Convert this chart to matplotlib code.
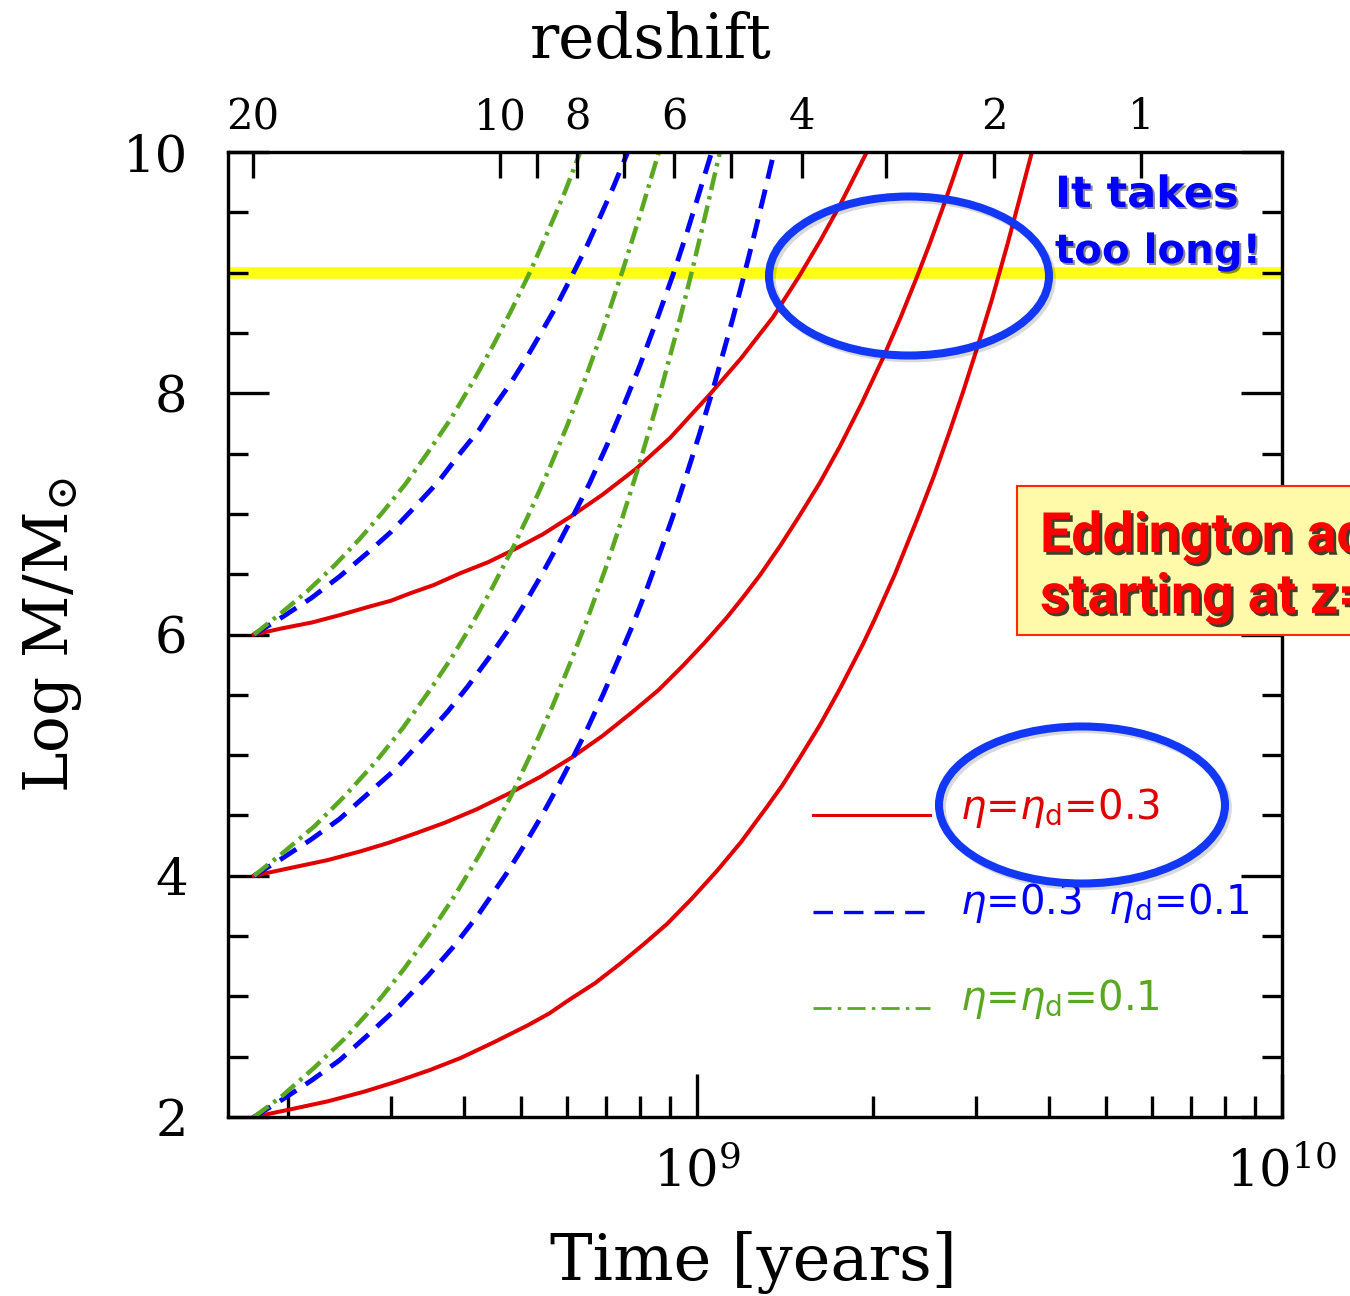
import matplotlib
matplotlib.use('Agg')
import numpy as np
import matplotlib.pyplot as plt
import matplotlib.patheffects as pe
from matplotlib.lines import Line2D
from matplotlib.patches import Ellipse, Rectangle
from matplotlib.ticker import FixedLocator, LogLocator, MultipleLocator, NullFormatter, NullLocator

plt.rcParams['font.family'] = ['DejaVu Serif']
plt.rcParams['mathtext.fontset'] = 'dejavuserif'
plt.rcParams['lines.scale_dashes'] = False

RED = '#e00000'
BLUE = '#0000ff'
GREEN = '#5aa821'
RING = '#1238f5'

# growth tracks: cosmic time [Gyr] and log M/Msun, seeds planted at z=20
# eta = eta_d = 0.3
t_red_6 = [0.175, 0.195, 0.220, 0.245, 0.275, 0.300, 0.323, 0.355, 0.395, 0.440, 0.485, 0.545, 0.614,
           0.690, 0.790, 0.900, 1.052, 1.190, 1.349, 1.500, 1.623, 1.756, 1.952]
m_red_6 = [6.00, 6.05, 6.10, 6.16, 6.23, 6.28, 6.34, 6.41, 6.51, 6.60, 6.70, 6.83, 6.99,
           7.16, 7.38, 7.63, 7.99, 8.29, 8.63, 8.98, 9.26, 9.56, 10.0]
t_red_4 = [0.175, 0.200, 0.234, 0.265, 0.296, 0.330, 0.371, 0.420, 0.481, 0.540, 0.611, 0.690, 0.777,
           0.860, 0.946, 1.030, 1.125, 1.200, 1.281, 1.390, 1.500, 1.623, 1.756, 1.910, 2.079, 2.230,
           2.380, 2.500, 2.633, 2.740, 2.838]
m_red_4 = [4.00, 4.06, 4.13, 4.20, 4.27, 4.35, 4.44, 4.55, 4.69, 4.82, 4.98, 5.16, 5.36,
           5.54, 5.74, 5.93, 6.14, 6.31, 6.49, 6.74, 6.99, 7.26, 7.56, 7.91, 8.29, 8.63,
           8.97, 9.24, 9.54, 9.78, 10.0]
t_red_2 = [0.175, 0.205, 0.234, 0.270, 0.305, 0.350, 0.395, 0.450, 0.514, 0.560, 0.600, 0.670, 0.739,
           0.810, 0.889, 0.980, 1.082, 1.190, 1.317, 1.400, 1.500, 1.623, 1.756, 1.922, 2.015, 2.180,
           2.377, 2.540, 2.707, 2.850, 3.010, 3.190, 3.388, 3.560, 3.738]
m_red_2 = [2.00, 2.07, 2.13, 2.21, 2.29, 2.39, 2.49, 2.62, 2.76, 2.86, 2.96, 3.11, 3.27,
           3.43, 3.60, 3.81, 4.04, 4.28, 4.57, 4.75, 4.98, 5.25, 5.55, 5.92, 6.13, 6.50,
           6.95, 7.31, 7.69, 8.01, 8.37, 8.77, 9.22, 9.61, 10.0]

# eta = 0.3, eta_d = 0.1
t_blue_6 = [0.175, 0.195, 0.219, 0.245, 0.274, 0.300, 0.330, 0.362, 0.395, 0.425, 0.452, 0.480, 0.508,
            0.540, 0.575, 0.614, 0.650, 0.683, 0.720, 0.762]
m_blue_6 = [6.00, 6.14, 6.30, 6.48, 6.68, 6.85, 7.06, 7.27, 7.51, 7.70, 7.90, 8.08, 8.27,
            8.49, 8.72, 8.99, 9.23, 9.46, 9.71, 10.0]
t_blue_4 = [0.175, 0.195, 0.219, 0.245, 0.274, 0.305, 0.343, 0.375, 0.406, 0.440, 0.481, 0.510, 0.545,
            0.580, 0.614, 0.655, 0.702, 0.750, 0.799, 0.850, 0.910, 0.960, 1.012, 1.060]
m_blue_4 = [4.00, 4.14, 4.30, 4.47, 4.68, 4.88, 5.15, 5.36, 5.57, 5.80, 6.07, 6.27, 6.51,
            6.75, 6.98, 7.25, 7.57, 7.90, 8.23, 8.58, 8.98, 9.32, 9.68, 10.0]
t_blue_2 = [0.175, 0.195, 0.219, 0.245, 0.274, 0.310, 0.347, 0.385, 0.422, 0.473, 0.508, 0.545, 0.580,
            0.614, 0.650, 0.691, 0.735, 0.777, 0.820, 0.865, 0.910, 0.961, 1.010, 1.065, 1.110,
            1.152, 1.200, 1.247, 1.300, 1.355]
m_blue_2 = [2.00, 2.14, 2.30, 2.47, 2.68, 2.92, 3.17, 3.42, 3.67, 4.02, 4.26, 4.51, 4.75,
            4.98, 5.22, 5.50, 5.80, 6.08, 6.37, 6.68, 6.98, 7.33, 7.66, 8.03, 8.34,
            8.62, 8.95, 9.27, 9.63, 10.0]

# eta = eta_d = 0.1
t_green_6 = [0.175, 0.195, 0.216, 0.240, 0.265, 0.290, 0.318, 0.347, 0.380, 0.417, 0.450, 0.481,
             0.518, 0.561, 0.595, 0.632]
m_green_6 = [6.00, 6.18, 6.36, 6.57, 6.79, 7.01, 7.25, 7.51, 7.79, 8.12, 8.41, 8.68,
             9.00, 9.38, 9.67, 10.0]
t_green_4 = [0.175, 0.195, 0.222, 0.250, 0.282, 0.315, 0.351, 0.380, 0.411, 0.445, 0.485, 0.520,
             0.560, 0.600, 0.640, 0.690, 0.747, 0.800, 0.861]
m_green_4 = [4.00, 4.18, 4.41, 4.66, 4.94, 5.23, 5.55, 5.80, 6.07, 6.37, 6.72, 7.03,
             7.38, 7.73, 8.08, 8.52, 9.02, 9.48, 10.0]
t_green_2 = [0.175, 0.195, 0.222, 0.250, 0.282, 0.315, 0.347, 0.385, 0.427, 0.455, 0.481, 0.524,
             0.567, 0.607, 0.649, 0.702, 0.745, 0.790, 0.830, 0.865, 0.900, 0.935, 0.984, 1.040, 1.095]
m_green_2 = [2.00, 2.17, 2.41, 2.65, 2.93, 3.22, 3.50, 3.83, 4.19, 4.44, 4.66, 5.04,
             5.41, 5.76, 6.12, 6.58, 6.96, 7.35, 7.70, 8.00, 8.31, 8.61, 9.04, 9.53, 10.0]

# redshift scale: z and age of the universe [Gyr]
z_ticks = [20, 10, 9, 8, 7, 6, 5, 4, 3, 2, 1]
z_age = [0.174, 0.461, 0.533, 0.624, 0.750, 0.914, 1.143, 1.512, 2.104, 3.219, 5.741]
z_shown = [20, 10, 8, 6, 4, 2, 1]

quasar_mass = 9.0

legend_labels = [r'$\eta$=$\eta_{\rm d}$=0.3',
                 r'$\eta$=0.3  $\eta_{\rm d}$=0.1',
                 r'$\eta$=$\eta_{\rm d}$=0.1']

W, H = 1350, 1296


def fx(px):
    return px / W


def fy(py):
    return 1 - py / H


styles = {
    'red': dict(color=RED, lw=2.9, ls='-'),
    'blue': dict(color=BLUE, lw=3.5, ls=(0, (14, 8))),
    'green': dict(color=GREEN, lw=3.2, ls=(0, (13, 4.5, 2.5, 4.5))),
}
tracks = [
    ('red', t_red_6, m_red_6), ('red', t_red_4, m_red_4), ('red', t_red_2, m_red_2),
    ('blue', t_blue_6, m_blue_6), ('blue', t_blue_4, m_blue_4), ('blue', t_blue_2, m_blue_2),
    ('green', t_green_6, m_green_6), ('green', t_green_4, m_green_4), ('green', t_green_2, m_green_2),
]

fig = plt.figure(figsize=(13.5, 12.96), dpi=100)
ax = fig.add_axes([228 / W, fy(1117), (1282 - 228) / W, (1117 - 152) / H])

ax.axhline(quasar_mass, color='#ffff10', lw=8.3, zorder=1)
for name, t, m in tracks:
    ax.plot(np.array(t) * 1e9, m, zorder=3, **styles[name])

ax.set_xscale('log')
ax.set_xlim(1.58e8, 1e10)
ax.set_ylim(2, 10)
ax.xaxis.set_major_locator(LogLocator(base=10, numticks=10))
ax.xaxis.set_minor_locator(LogLocator(base=10, subs=range(2, 10), numticks=20))
ax.xaxis.set_minor_formatter(NullFormatter())
ax.yaxis.set_major_locator(MultipleLocator(2))
ax.yaxis.set_minor_locator(MultipleLocator(0.5))

ax.tick_params(which='both', direction='in', width=2.4, color='k')
ax.tick_params(axis='y', which='major', length=29.5, pad=29, labelsize=37, right=True)
ax.tick_params(axis='y', which='minor', length=14.5, right=True)
ax.tick_params(axis='x', which='major', length=31, pad=22, labelsize=37, top=False)
ax.tick_params(axis='x', which='minor', length=15, top=False)
for sp in ax.spines.values():
    sp.set_linewidth(2.3)

# redshift along the top
ax_top = ax.twiny()
ax_top.set_xscale('log')
ax_top.set_xlim(ax.get_xlim())
ax_top.xaxis.set_major_locator(FixedLocator(np.array(z_age) * 1e9))
ax_top.xaxis.set_minor_locator(NullLocator())
ax_top.set_xticklabels([str(z) if z in z_shown else '' for z in z_ticks])
ax_top.tick_params(axis='x', direction='in', length=18.5, width=2.4, pad=10, labelsize=30)
for sp in ax_top.spines.values():
    sp.set_linewidth(2.3)

fig.text(fx(651), fy(58), 'redshift', ha='center', va='baseline', fontsize=44)
fig.text(fx(753), fy(1280), 'Time [years]', ha='center', va='baseline', fontsize=46)
fig.text(fx(52), fy(635), r'Log M/M$_{\odot}$', ha='center', va='center', rotation=90, fontsize=44)

# legend drawn by hand
leg_colors = [RED, BLUE, GREEN]
leg_names = ['red', 'blue', 'green']
leg_line_y = [815, 912, 1008]
leg_text_y = [819, 914, 1010]
leg_widths = [2.2, 2.4, 2.0]
for name, col, ly, ty, lw, lab in zip(leg_names, leg_colors, leg_line_y, leg_text_y, leg_widths, legend_labels):
    st = dict(styles[name])
    st['lw'] = lw
    fig.add_artist(Line2D([fx(813), fx(930)], [fy(ly), fy(ly)], transform=fig.transFigure, **st))
    fig.text(fx(960), fy(ty), lab, color=col, fontsize=29, family='DejaVu Sans',
             math_fontfamily='dejavusans', va='baseline')

# highlight rings
ring_shadow = [pe.SimpleLineShadow(offset=(2, -2), shadow_color='k', alpha=0.15), pe.Normal()]
for cx, cy, w, h in [(909, 276, 280, 159), (1082, 805, 286, 157)]:
    fig.add_artist(Ellipse((fx(cx), fy(cy)), w / W, h / H, transform=fig.transFigure, fill=False,
                           ec=RING, lw=5.8, zorder=10, path_effects=ring_shadow))

text_shadow = [pe.withSimplePatchShadow(offset=(1.5, -1.5), shadow_rgbFace='k', alpha=0.45)]
fig.text(fx(1055), fy(207), 'It takes', color=BLUE, fontsize=31, fontweight='bold',
         family='DejaVu Sans', va='baseline', zorder=12, path_effects=text_shadow)
fig.text(fx(1055), fy(263), 'too long!', color=BLUE, fontsize=29, fontweight='bold',
         family='DejaVu Sans', va='baseline', zorder=12, path_effects=text_shadow)

fig.add_artist(Rectangle((fx(1017), fy(635)), (1420 - 1017) / W, (635 - 486) / H, transform=fig.transFigure,
                         fc='#fffaa9', ec='#ff2a00', lw=1.5, zorder=20))
box_shadow = [pe.withSimplePatchShadow(offset=(2, -2), shadow_rgbFace='k', alpha=0.75)]
fig.text(fx(1040), fy(552), 'Eddington accretion', color='#ff0000', fontsize=40, fontweight='bold',
         family='Roboto', va='baseline', zorder=21, path_effects=box_shadow)
fig.text(fx(1040), fy(613), 'starting at z=20', color='#ff0000', fontsize=40, fontweight='bold',
         family='Roboto', va='baseline', zorder=21, path_effects=box_shadow)

fig.savefig('out.png', dpi=100)
